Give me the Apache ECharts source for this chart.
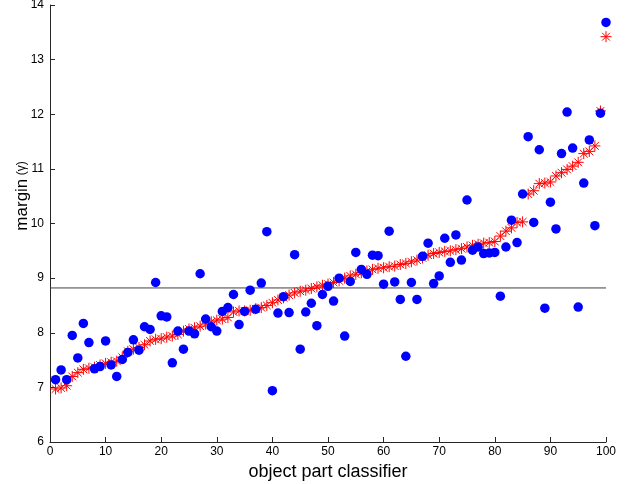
<!DOCTYPE html>
<html>
<head>
<meta charset="utf-8">
<script src="https://cdn.jsdelivr.net/npm/echarts@6/dist/echarts.min.js"></script>
<style>html,body{margin:0;padding:0;background:#fff}#c{width:626px;height:484px}</style>
</head>
<body>
<div id="c"></div>
<script>
// x positions (object part classifier index)
const classifierIndex = [];
for (let i = 1; i <= 100; i++) classifierIndex.push(i);

// blue dots: margin per classifier
const marginValues = [
  7.14, 7.32, 7.14, 7.95, 7.54, 8.17, 7.82, 7.34, 7.38, 7.85,
  7.41, 7.20, 7.51, 7.64, 7.87, 7.68, 8.11, 8.06, 8.92, 8.31,
  8.29, 7.45, 8.03, 7.70, 8.03, 7.98, 9.08, 8.25, 8.11, 8.03,
  8.39, 8.46, 8.70, 8.15, 8.39, 8.78, 8.43, 8.91, 9.85, 6.94,
  8.36, 8.66, 8.37, 9.43, 7.70, 8.38, 8.54, 8.13, 8.70, 8.85,
  8.58, 9.00, 7.94, 8.94, 9.47, 9.16, 9.07, 9.42, 9.41, 8.89,
  9.86, 8.93, 8.61, 7.57, 8.92, 8.61, 9.40, 9.64, 8.90, 9.04,
  9.73, 9.29, 9.79, 9.33, 10.43, 9.51, 9.57, 9.45, 9.46, 9.47,
  8.67, 9.57, 10.06, 9.65, 10.54, 11.59, 10.02, 11.35, 8.45, 10.39,
  9.90, 11.28, 12.04, 11.38, 8.47, 10.74, 11.53, 9.96, 12.02, 13.68
];

// red asterisks: sorted margin
const sortedMargin = [
  6.97, 6.99, 7.03, 7.20, 7.27, 7.33, 7.35, 7.37, 7.41, 7.44,
  7.46, 7.48, 7.55, 7.66, 7.70, 7.73, 7.78, 7.85, 7.88, 7.89,
  7.92, 7.94, 7.97, 8.03, 8.07, 8.09, 8.12, 8.16, 8.20, 8.23,
  8.25, 8.28, 8.38, 8.40, 8.40, 8.41, 8.44, 8.46, 8.50, 8.55,
  8.60, 8.64, 8.69, 8.73, 8.76, 8.78, 8.81, 8.84, 8.87, 8.89,
  8.92, 8.95, 9.00, 9.04, 9.07, 9.10, 9.13, 9.16, 9.18, 9.19,
  9.21, 9.22, 9.25, 9.27, 9.30, 9.33, 9.37, 9.42, 9.45, 9.47,
  9.49, 9.50, 9.52, 9.54, 9.57, 9.60, 9.62, 9.64, 9.65, 9.67,
  9.77, 9.86, 9.92, 10.02, 10.03, 10.54, 10.60, 10.73, 10.74, 10.76,
  10.87, 10.93, 10.99, 11.05, 11.12, 11.28, 11.32, 11.42, 12.06, 13.42
];

const meanMargin = 8.82;
const xRange = [0, 100];
const xTicks = [0, 10, 20, 30, 40, 50, 60, 70, 80, 90, 100];
const yTicks = [6, 7, 8, 9, 10, 11, 12, 13, 14];

const chart = echarts.init(document.getElementById('c'), null, {renderer: 'canvas'});
const font = 'Liberation Sans, Arial, Helvetica, sans-serif';
const star = 'path://M0,-1L0,1M-1,0L1,0M-0.707,-0.707L0.707,0.707M-0.707,0.707L0.707,-0.707';

chart.setOption({
  animation: false,
  backgroundColor: '#ffffff',
  grid: {left: 50, right: 20, top: 5, bottom: 42, containLabel: false, outerBoundsMode: 'none'},
  xAxis: {
    type: 'value', min: xTicks[0], max: xTicks[xTicks.length - 1], interval: 10,
    axisLine: {show: true, onZero: false, lineStyle: {color: '#262626', width: 1}},
    axisTick: {show: true, inside: true, length: 5, lineStyle: {color: '#262626'}},
    axisLabel: {color: '#000', fontFamily: font, fontSize: 12, margin: 4},
    splitLine: {show: false},
    name: 'object part classifier', nameLocation: 'middle', nameGap: 19,
    nameTextStyle: {color: '#000', fontFamily: font, fontSize: 18}
  },
  yAxis: {
    type: 'value', min: yTicks[0], max: yTicks[yTicks.length - 1], interval: 1,
    axisLine: {show: true, onZero: false, lineStyle: {color: '#262626', width: 1}},
    axisTick: {show: true, inside: true, length: 5, lineStyle: {color: '#262626'}},
    axisLabel: {color: '#000', fontFamily: font, fontSize: 12, margin: 6},
    splitLine: {show: false}
  },
  graphic: [{
    type: 'text', x: 22, y: 196, rotation: Math.PI / 2,
    style: {
      text: '{a|margin} {b|(γ)}', textAlign: 'center', textVerticalAlign: 'middle',
      rich: {
        a: {fontFamily: font, fontSize: 17, fill: '#000'},
        b: {fontFamily: font, fontSize: 12, fill: '#000'}
      }
    }
  }],
  series: [
    {
      type: 'line', data: [[xRange[0], meanMargin], [xRange[1], meanMargin]],
      symbol: 'none', lineStyle: {color: '#404040', width: 1}, z: 1, silent: true
    },
    {
      type: 'scatter', data: classifierIndex.map((x, i) => [x, sortedMargin[i]]),
      symbol: star, symbolSize: 11,
      itemStyle: {color: 'rgba(0,0,0,0)', borderColor: '#ff0000', borderWidth: 1, opacity: 1},
      z: 2
    },
    {
      type: 'scatter', data: classifierIndex.map((x, i) => [x, marginValues[i]]),
      symbol: 'circle', symbolSize: 9.5,
      itemStyle: {color: '#0000ff', opacity: 1},
      z: 3
    }
  ]
});
</script>
</body>
</html>
